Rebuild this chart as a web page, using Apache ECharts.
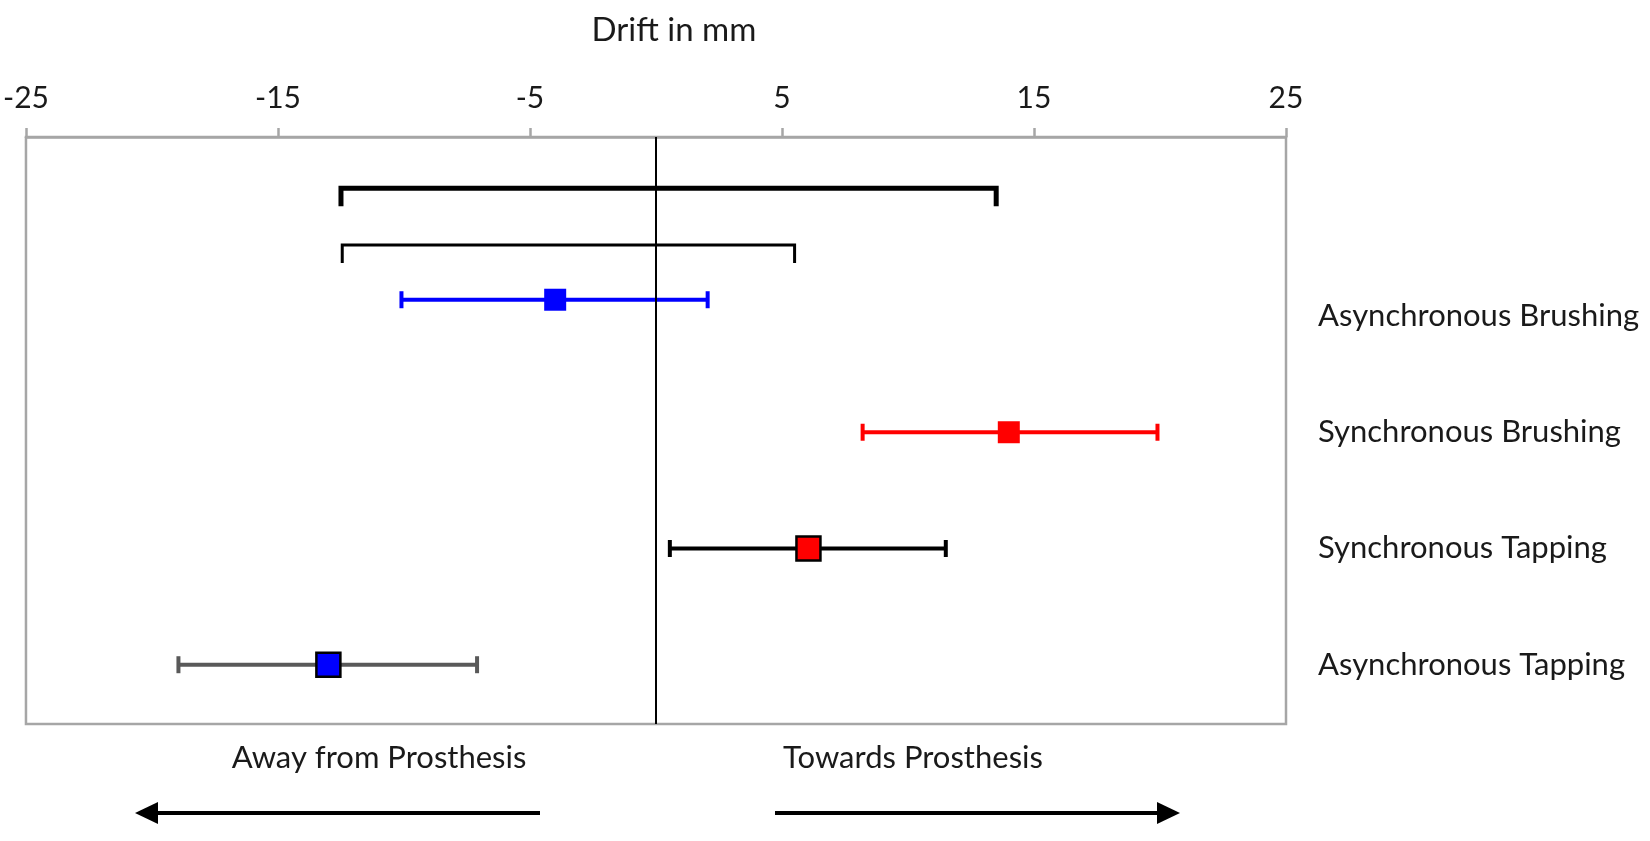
<!DOCTYPE html>
<html>
<head>
<meta charset="utf-8">
<script src="https://cdn.jsdelivr.net/npm/echarts@6/dist/echarts.min.js"></script>
<style>html,body{margin:0;padding:0;background:#fff;}#chart{width:1650px;height:841px;}</style>
</head>
<body>
<div id="chart"></div>
<script>
// ---- data ----
const categories = ['Asynchronous Tapping', 'Synchronous Tapping', 'Synchronous Brushing', 'Asynchronous Brushing'];
const labelRows = [1, 2, 3, 4];
const dataRows = [1, 2, 3, 4.14];
const means = [-13, 6.05, 14, -4];
const lowers = [-18.95, 0.55, 8.2, -10.1];
const uppers = [-7.1, 11.5, 19.9, 2.05];
const bracketRows = [5.1, 4.61];
const bracketLows = [-12.5, -12.45];
const bracketHighs = [13.5, 5.5];
const xTicks = [-25, -15, -5, 5, 15, 25];
const titleText = 'Drift in mm';
const directionTexts = ['Away from Prosthesis', 'Towards Prosthesis'];

// ---- styles ----
const barColors = ['#595959', '#000000', '#ff0000', '#0000ff'];
const markerFills = ['#0000ff', '#ff0000', '#ff0000', '#0000ff'];
const markerBorders = ['#000000', '#000000', null, null];
const bracketWidths = [5, 3];
const FONT = 'Lato, "Open Sans", sans-serif';
const TXT = '#1a1a1a';

const chart = echarts.init(document.getElementById('chart'));

const errData = categories.map((c, i) => [lowers[i], uppers[i], dataRows[i], i]);
const bracketData = bracketRows.map((r, i) => [bracketLows[i], bracketHighs[i], r, i]);
const markerData = categories.map((c, i) => ({
  value: [means[i], dataRows[i]],
  itemStyle: {
    color: markerFills[i],
    opacity: 1,
    borderColor: markerBorders[i] || markerFills[i],
    borderWidth: markerBorders[i] ? 2.5 : 0
  },
  symbolSize: markerBorders[i] ? 24 : 22
}));

function arrow(x1, x2, y) {
  const dir = x2 > x1 ? 1 : -1;
  const headLen = 23, headHalf = 11;
  return {
    type: 'group',
    children: [
      { type: 'line', shape: { x1: x1, y1: y, x2: x2 - dir * headLen, y2: y }, style: { stroke: '#000', lineWidth: 4 } },
      { type: 'polygon', shape: { points: [[x2, y], [x2 - dir * headLen, y - headHalf], [x2 - dir * headLen, y + headHalf]] }, style: { fill: '#000' } }
    ]
  };
}

chart.setOption({
  animation: false,
  backgroundColor: '#fff',
  grid: { left: 23, right: 364, top: 137, bottom: 117, show: true, borderColor: '#a6a6a6', borderWidth: 2.5 },
  xAxis: {
    type: 'value', position: 'top', min: -25, max: 25,
    axisLine: { show: true, lineStyle: { color: '#a6a6a6', width: 2.5 } },
    axisTick: { show: true, length: 9, customValues: xTicks, lineStyle: { color: '#a6a6a6', width: 2.5 } },
    axisLabel: { customValues: xTicks, fontSize: 30, color: TXT, margin: 24, fontFamily: FONT },
    splitLine: { show: false }
  },
  yAxis: {
    type: 'value', position: 'right', min: 0.49, max: 5.54,
    axisLine: { show: false }, axisTick: { show: false }, splitLine: { show: false },
    axisLabel: {
      customValues: labelRows,
      formatter: v => categories[labelRows.indexOf(v)] || '',
      margin: 32, fontSize: 31, color: TXT, fontFamily: FONT
    }
  },
  series: [
    {
      type: 'line', data: [], silent: true,
      markLine: {
        symbol: 'none', silent: true, label: { show: false },
        lineStyle: { color: '#000', width: 2, type: 'solid' },
        data: [{ xAxis: 0 }]
      }
    },
    {
      type: 'custom', z: 3,
      data: bracketData,
      renderItem: function (params, api) {
        const i = api.value(3);
        const p1 = api.coord([api.value(0), api.value(2)]);
        const p2 = api.coord([api.value(1), api.value(2)]);
        const drop = 18;
        return {
          type: 'polyline',
          shape: { points: [[p1[0], p1[1] + drop], p1, p2, [p2[0], p2[1] + drop]] },
          style: { stroke: '#000', lineWidth: bracketWidths[i], fill: null, lineJoin: 'miter' }
        };
      }
    },
    {
      type: 'custom', z: 4,
      data: errData,
      renderItem: function (params, api) {
        const i = api.value(3);
        const p1 = api.coord([api.value(0), api.value(2)]);
        const p2 = api.coord([api.value(1), api.value(2)]);
        const cap = 8.5;
        const st = { stroke: barColors[i], lineWidth: 4 };
        return {
          type: 'group',
          children: [
            { type: 'line', shape: { x1: p1[0], y1: p1[1], x2: p2[0], y2: p2[1] }, style: st },
            { type: 'line', shape: { x1: p1[0], y1: p1[1] - cap, x2: p1[0], y2: p1[1] + cap }, style: st },
            { type: 'line', shape: { x1: p2[0], y1: p2[1] - cap, x2: p2[0], y2: p2[1] + cap }, style: st }
          ]
        };
      }
    },
    {
      type: 'scatter', z: 5, symbol: 'rect',
      emphasis: { disabled: true },
      data: markerData
    }
  ],
  graphic: [
    { type: 'text', x: 674, y: 30, style: { text: titleText, fontSize: 33, fill: TXT, fontFamily: FONT, align: 'center', verticalAlign: 'middle' } },
    { type: 'text', x: 379, y: 758, style: { text: directionTexts[0], fontSize: 31, fill: TXT, fontFamily: FONT, align: 'center', verticalAlign: 'middle' } },
    { type: 'text', x: 913, y: 758, style: { text: directionTexts[1], fontSize: 31, fill: TXT, fontFamily: FONT, align: 'center', verticalAlign: 'middle' } },
    arrow(540, 135, 813),
    arrow(775, 1180, 813)
  ]
});
</script>
</body>
</html>
